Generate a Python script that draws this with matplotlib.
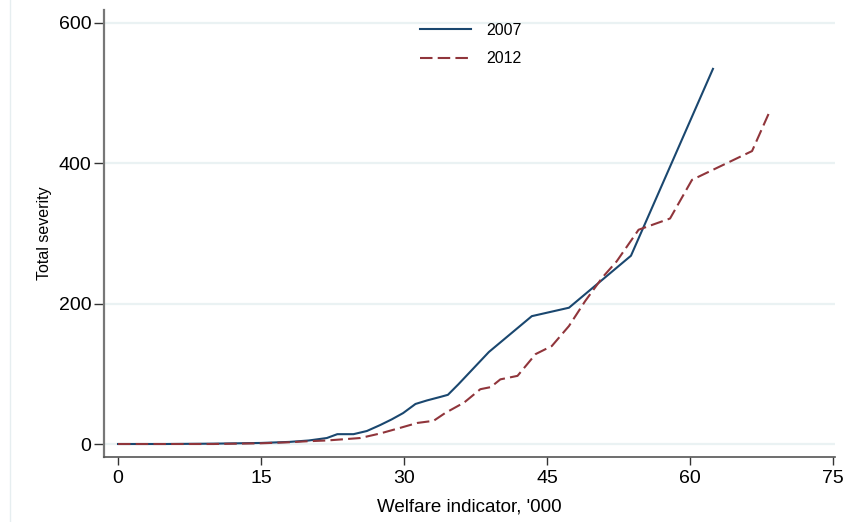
import matplotlib
matplotlib.use("Agg")
import matplotlib.pyplot as plt
from matplotlib.lines import Line2D

plt.rcParams['font.family'] = ['Liberation Sans', 'DejaVu Sans']

# data
x_2007 = [0, 5, 10, 15, 18, 20, 21.9, 23, 24.7, 26.1, 27.5, 28.7, 29.9, 31.2,
          32.4, 33.8, 34.6, 35.7, 38.9, 43.4, 47.3, 53.8, 62.4]
y_2007 = [0, 0, 0.5, 1.5, 3, 5, 8.5, 14, 14, 18.5, 27, 35, 44, 57,
          62, 67, 70, 85, 131, 182, 194, 268, 534]

x_2012 = [0, 5, 10, 15, 18, 20, 21.9, 25.4, 27.5, 29.6, 31.4, 33.1, 34.3, 36.3,
          38, 39.1, 40.1, 41.9, 43.8, 45.5, 47.3, 49, 50.8, 52.3, 54.6, 57.9,
          60.2, 66.5, 68.4]
y_2012 = [0, 0, 0, 1, 2.5, 4, 5, 8.5, 15, 23, 30, 33, 44, 59,
          78, 81, 92, 97, 128, 139.5, 168, 203.5, 237, 260, 305, 321,
          376, 417, 475]

x_ticks = [0, 15, 30, 45, 60, 75]
y_ticks = [0, 200, 400, 600]

fig = plt.figure(figsize=(8.44, 5.22), dpi=100)
ax = fig.add_axes([104 / 844, 1 - 457 / 522, (835 - 104) / 844, (457 - 10) / 522])

for yt in y_ticks:
    ax.axhline(yt, color='#eaf2f3', lw=1.6, zorder=0)

ax.plot(x_2007, y_2007, color='#1a476f', lw=1.5, label='2007')
ax.plot(x_2012, y_2012, color='#90353b', lw=1.5, dashes=(6, 2.5), label='2012')

ax.set_xlim(-1.47, 75.2)
ax.set_ylim(-18.5, 617.8)
ax.set_xticks(x_ticks)
ax.set_yticks(y_ticks)
ax.tick_params(axis='both', direction='out', length=6, width=1, labelsize=14,
               color='#333333')
ax.tick_params(axis='y', length=7, pad=2)

for s in ['top', 'right']:
    ax.spines[s].set_visible(False)
ax.spines['left'].set_color('#777777')
ax.spines['left'].set_linewidth(1.6)
ax.spines['bottom'].set_color('#555555')
ax.spines['bottom'].set_linewidth(1.2)

ax.set_xlabel("Welfare indicator, '000", fontsize=13.5, labelpad=8)
ax.set_ylabel("Total severity", fontsize=11.5, labelpad=5)

fig.legend(loc='upper left', bbox_to_anchor=(420 / 844, 1 - 23 / 522),
           frameon=False, fontsize=11.4, handlelength=3.2, handletextpad=1.0,
           labelspacing=0.85, borderpad=0, borderaxespad=0)

# faint outer region border on the left
fig.add_artist(Line2D([10 / 844, 10 / 844], [0, 1], color='#e6eef0', lw=1))

fig.savefig('out.png', dpi=100)
